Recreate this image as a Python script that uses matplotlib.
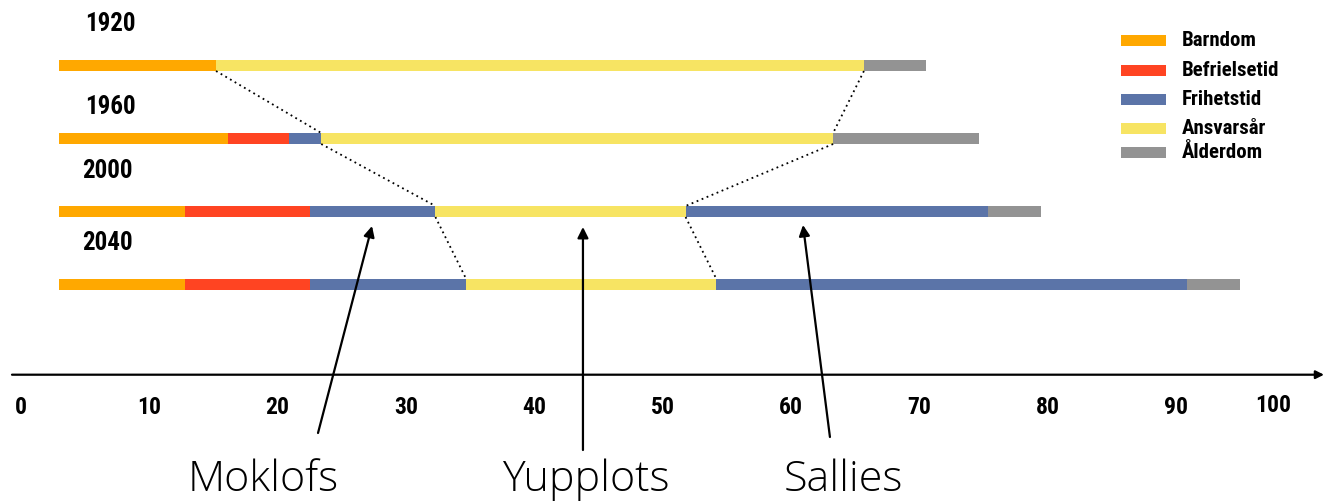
import matplotlib
matplotlib.use("Agg")
import matplotlib.pyplot as plt
from matplotlib import font_manager
from matplotlib.patches import Rectangle

# ---------------- data ----------------
generations = ["1920", "1960", "2000", "2040"]
phases = ["Barndom", "Befrielsetid", "Frihetstid", "Ansvarsår", "Ålderdom"]
start_age = [3.0, 3.0, 3.0, 3.0]
barndom = [12.2, 13.1, 9.8, 9.8]
befrielsetid = [0.0, 4.8, 9.7, 9.7]
frihetstid_1 = [0.0, 2.5, 9.8, 12.2]
ansvarsar = [50.5, 39.9, 19.5, 19.5]
frihetstid_2 = [0.0, 0.0, 23.6, 36.7]
alderdom = [4.8, 11.4, 4.1, 4.1]
tick_values = [0, 10, 20, 30, 40, 50, 60, 70, 80, 90, 100]
annot_labels = ["Moklofs", "Yupplots", "Sallies"]

# ---------------- style ----------------
colors = {"Barndom": "#FFA800", "Befrielsetid": "#FF4422", "Frihetstid": "#5B74A8",
          "Ansvarsår": "#F7E463", "Ålderdom": "#939393"}


def pick(cands):
    for c in cands:
        try:
            font_manager.findfont(font_manager.FontProperties(family=c), fallback_to_default=False)
            return c
        except Exception:
            pass
    return "DejaVu Sans"


narrow = pick(["Liberation Sans Narrow", "Roboto Condensed", "Liberation Sans"])
light = pick(["Open Sans", "Lato", "Noto Sans"])

W, H = 1331, 504
fig = plt.figure(figsize=(W / 100, H / 100), dpi=100)
ax = fig.add_axes([0, 0, 1, 1])
px_per_year = 12.83
x0_px = 21
ax.set_xlim(-x0_px / px_per_year, (W - x0_px) / px_per_year)
ax.set_ylim(H, 0)  # layout y in pixels from top
ax.axis("off")

row_y = [65.5, 138.5, 211.5, 284.5]
bar_h = 11
label_y = [24, 107, 171, 243]
label_x = [6.95, 6.95, 6.7, 6.7]

segments = [("Barndom", barndom), ("Befrielsetid", befrielsetid), ("Frihetstid", frihetstid_1),
            ("Ansvarsår", ansvarsar), ("Frihetstid", frihetstid_2), ("Ålderdom", alderdom)]

yellow_bounds = []
for i, g in enumerate(generations):
    left = start_age[i]
    for name, vals in segments:
        w = vals[i]
        if w > 0:
            ax.barh(row_y[i], w, left=left, height=bar_h, color=colors[name], linewidth=0)
        if name == "Ansvarsår":
            yellow_bounds.append((left, left + w))
        left += w
    ax.text(label_x[i], label_y[i], g, ha="center", va="center", fontsize=18,
            fontweight="bold", family=narrow, color="black")

# dotted connectors between Ansvarsår segments
for i in range(len(generations) - 1):
    for k in range(2):
        ax.plot([yellow_bounds[i][k], yellow_bounds[i + 1][k]],
                [row_y[i] + bar_h / 2, row_y[i + 1] - bar_h / 2],
                color="black", lw=1.3, linestyle=(0, (1, 2)))

# time axis
axis_y = 374.7
ax.annotate("", xy=((1324 - x0_px) / px_per_year, axis_y), xytext=((12 - x0_px) / px_per_year, axis_y),
            arrowprops=dict(arrowstyle="-|>", lw=1.6, color="black", mutation_scale=12,
                            shrinkA=0, shrinkB=0))
for v in tick_values:
    xv = v if v < 100 else 97.6
    yv = 407 if v < 100 else 405
    ax.text(xv, yv, str(v), ha="center", va="center", fontsize=17, fontweight="bold",
            family=narrow, color="black")

# annotation arrows
arrow_tips = [(27.36, 226), (43.8, 227), (60.95, 225)]
arrow_tails = [(23.15, 433), (43.8, 450), (63.05, 437)]
text_x = [18.9, 44.0, 64.1]
for lab, tip, tail, tx in zip(annot_labels, arrow_tips, arrow_tails, text_x):
    ax.annotate("", xy=tip, xytext=tail,
                arrowprops=dict(arrowstyle="-|>", lw=1.6, color="black", mutation_scale=16,
                                shrinkA=0, shrinkB=0))
    ax.text(tx, 480, lab, ha="center", va="center", fontsize=31, fontweight="light",
            family=light, color="black")

# legend (manual)
leg_y = [40, 70, 99.5, 128, 152]
leg_x0 = (1121 - x0_px) / px_per_year
leg_w = 45 / px_per_year
for name, yy in zip(phases, leg_y):
    ax.add_patch(Rectangle((leg_x0, yy - 5.5), leg_w, 11, color=colors[name], lw=0))
    ax.text((1182 - x0_px) / px_per_year, yy, name, ha="left", va="center", fontsize=15,
            fontweight="bold", family=narrow, color="black")

fig.savefig("out.png", dpi=100, facecolor="white")
